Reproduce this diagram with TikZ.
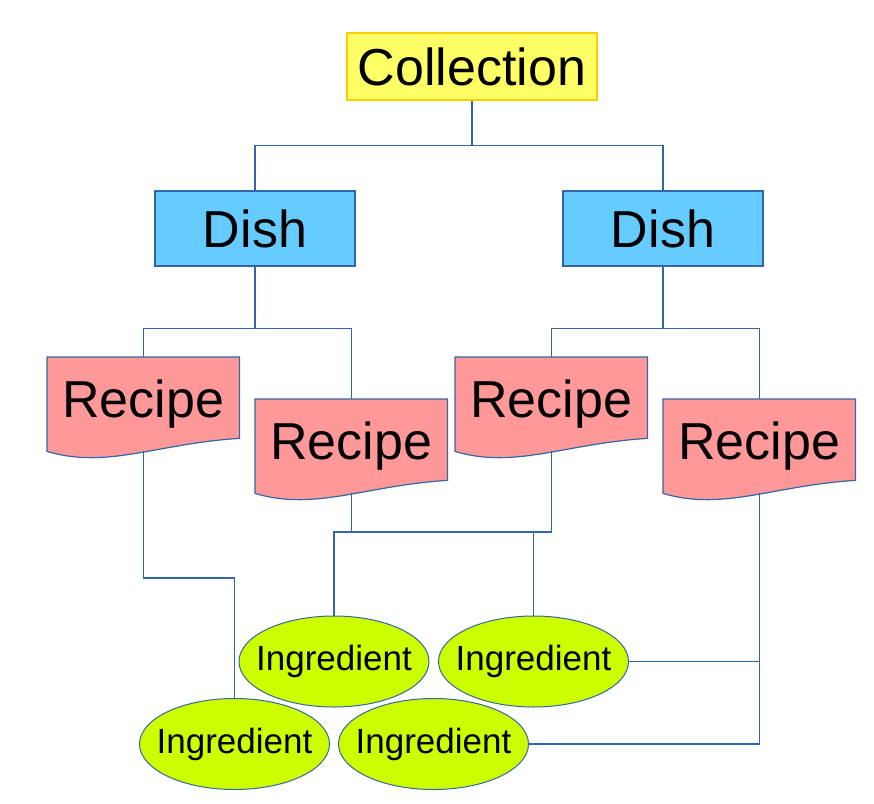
\documentclass[tikz,border=0pt]{standalone}
\usepackage{fontspec}
\setmainfont{Liberation Sans}
\usetikzlibrary{shapes.geometric,backgrounds}

\definecolor{wireblue}{HTML}{3465A4}
\definecolor{collfill}{HTML}{FFFF66}
\definecolor{collline}{HTML}{FFCC00}
\definecolor{dishfill}{HTML}{66CCFF}
\definecolor{recipefill}{HTML}{FF9999}
\definecolor{ingrfill}{HTML}{CCFF00}

\begin{document}
\begin{tikzpicture}[x=1pt,y=-1pt,
  wire/.style={draw=wireblue,line width=1.3pt},
  bigtext/.style={font=\fontsize{52}{60}\selectfont},
  collbox/.style={bigtext,draw=collline,fill=collfill,line width=1.2pt,
    minimum width=250pt,minimum height=67pt,inner sep=0pt},
  dishbox/.style={bigtext,draw=wireblue,fill=dishfill,line width=1.2pt,
    minimum width=200pt,minimum height=75pt,inner sep=0pt},
  recipebox/.style={bigtext,anchor=north west,
    minimum width=192pt,minimum height=94pt,inner sep=0pt},
  ingrbox/.style={ellipse,draw=wireblue,fill=ingrfill,line width=1pt,
    minimum width=190pt,minimum height=91pt,inner sep=0pt,
    font=\fontsize{35}{40}\selectfont}]
  \useasboundingbox (0,0) rectangle (874,803);

  % boxes
  \node[collbox] (coll) at (472,66.5) {Collection};
  \node[dishbox] (d1) at (255,228.5) {Dish};
  \node[dishbox] (d2) at (663,228.5) {Dish};

  \node[recipebox] (r1) at (47,357) {Recipe};
  \node[recipebox] (r2) at (255,399) {Recipe};
  \node[recipebox] (r3) at (455,357) {Recipe};
  \node[recipebox] (r4) at (663,399) {Recipe};

  \node[ingrbox] (i1) at (334,661.5) {\makebox[0pt]{Ingredient}};
  \node[ingrbox] (i2) at (533.5,661.5) {\makebox[0pt]{Ingredient}};
  \node[ingrbox] (i3) at (234.5,744) {\makebox[0pt]{Ingredient}};
  \node[ingrbox] (i4) at (433.5,744) {\makebox[0pt]{Ingredient}};

  % recipe sheets with wavy bottom
  \begin{scope}[on background layer]
    \foreach \r in {r1,r2,r3,r4}
      \draw[draw=wireblue,fill=recipefill,line width=1.2pt]
        (\r.north west) -- (\r.north east) -- ([yshift=13pt]\r.south east)
        .. controls ([xshift=-82pt,yshift=8pt]\r.south east)
        and ([xshift=60pt,yshift=-18pt]\r.south west) .. (\r.south west) -- cycle;
  \end{scope}

  % connectors
  \draw[wire] (coll.south) -- ++(0,45) coordinate (b0);
  \draw[wire] (d1.north) |- (b0) -| (d2.north);
  \draw[wire] (d1.south) -- ++(0,62) coordinate (b1);
  \draw[wire] (r1.north) |- (b1) -| (r2.north);
  \draw[wire] (d2.south) -- ++(0,62) coordinate (b2);
  \draw[wire] (r3.north) |- (b2) -| (r4.north);

  \draw[wire] (r1.south) -- (r1.south |- 0,578) -| (i3.north);
  \draw[wire] (r2.south) -- (r2.south |- 0,532) -| (r3.south);
  \draw[wire] (i1.north) -- (i1.north |- 0,532) -| (i2.north);
  \draw[wire] (r4.south) |- (i4.east);
  \draw[wire] (i2.east) -- (i2.east -| r4.south);
\end{tikzpicture}
\end{document}
